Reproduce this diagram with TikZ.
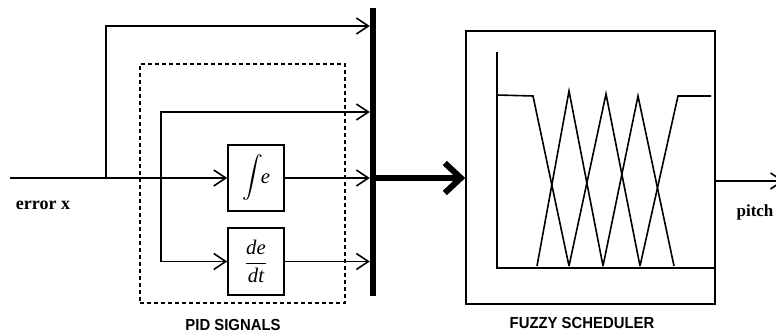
\documentclass[tikz,border=0pt]{standalone}
\usepackage{exscale}
\usepackage{fontspec}
\setmainfont{Liberation Serif}
\newfontfamily\labelfont{Liberation Sans}
\usetikzlibrary{arrows.meta}
\begin{document}
\begin{tikzpicture}[x=1pt,y=-1pt,
  wire/.style={line width=1.6pt},
  arr/.style={wire,-{Straight Barb[length=12pt,width=16pt,line width=1.6pt]}},
  blk/.style={draw,line width=1.6pt,minimum width=56pt,minimum height=66pt,inner sep=0pt},
  caplbl/.style={font=\labelfont\bfseries\fontsize{16}{16}\selectfont,xscale=0.93},
  siglbl/.style={font=\bfseries\fontsize{18}{18}\selectfont}]
\useasboundingbox (0,0) rectangle (776,336);
% dashed PID group
\node[draw,dashed,dash pattern=on 4pt off 3pt,line width=1.4pt,minimum width=205pt,minimum height=239pt,inner sep=0pt] (pid) at (242.5,183.5) {};
% blocks
\node[blk] (int) at (256,178) {\huge$\displaystyle\int$\kern-2pt\textit{e}};
\node[blk,minimum height=67pt] (dt) at (256,261.5) {\huge$\displaystyle\frac{\textit{de}}{\textit{dt}}$};
\node[fill=black,minimum width=6pt,minimum height=288pt,inner sep=0pt] (bar) at (373,152) {};
\node[draw,line width=1.6pt,minimum width=249pt,minimum height=273pt,inner sep=0pt] (fz) at (590.5,167.5) {};
% coordinates
\coordinate (in) at (10,178);
\coordinate (b1) at (106,178);
\coordinate (b2) at (161,178);
\coordinate (y1) at (0,26);
\coordinate (y2) at (0,112);
\coordinate (y3) at (0,181);
\coordinate (out) at (784,181);
% wires
\draw[arr] (in) -- (int.west);
\draw[arr] (b1) |- (y1 -| bar.west);
\draw[arr] (b2) |- (y2 -| bar.west);
\draw[arr] (b2) |- (dt.west);
\draw[arr] (int.east) -- (int.east -| bar.west);
\draw[arr] (dt.east) -- (dt.east -| bar.west);
\draw[line width=6pt,-{Straight Barb[length=16pt,width=30pt,line width=6pt]}] (bar.east |- in) -- (fz.west |- in);
\draw[arr] (fz.east |- y3) -- (out);
% fuzzy membership functions
\draw[wire] (497,52) -- (497,268) -- (714,268);
\draw[wire] (497,95) -- (533,96) -- (569,266);
\draw[wire] (537,266) -- (569,91) -- (603,266);
\draw[wire] (569,266) -- (606,94) -- (640,266);
\draw[wire] (603,266) -- (638,96) -- (674,266);
\draw[wire] (640,266) -- (678,96) -- (711,96);
% labels
\node[siglbl] (lerr) at (43,205) {error x};
\node[siglbl,font=\bfseries\fontsize{17}{17}\selectfont] (lpitch) at (755,212) {pitch};
\node[caplbl] (lpid) at (233,325) {PID SIGNALS};
\node[caplbl] (lfz) at (582,323) {FUZZY SCHEDULER};
\end{tikzpicture}
\end{document}
